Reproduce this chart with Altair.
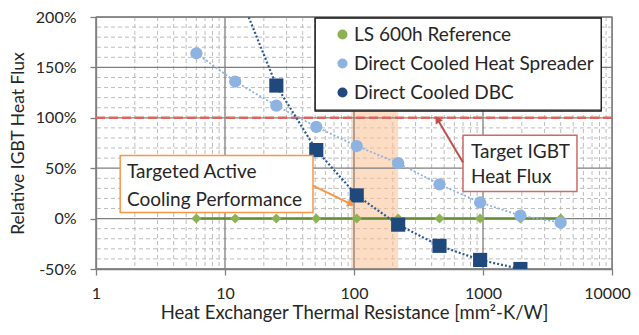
import math
import altair as alt
import numpy as np
import pandas as pd

# ---------------- data ----------------
series = ["LS 600h Reference", "Direct Cooled Heat Spreader", "Direct Cooled DBC"]
x_res = [6, 12, 25, 51, 105, 220, 460, 950, 1950, 4000]
ref_flux = [0, 0, 0, 0, 0, 0, 0, 0, 0, 0]
hs_flux = [164, 136, 112, 91, 72, 55, 34, 16, 3, -4]
dbc_x = [12, 25, 51, 105, 220, 460, 950, 1950]
dbc_flux = [233, 132, 68, 23, -6, -27, -41, -50]

target_flux = 100
band_range = [95, 220]

x_ticks = [1, 10, 100, 1000, 10000]
y_ticks = [-50, 0, 50, 100, 150, 200]

# annotation boxes / texts / arrows (data coordinates)
box_x1 = [1.54, 700]
box_x2 = [48.1, 5350]
box_y1 = [62.7, 82.6]
box_y2 = [6.0, 26.9]
box_color = ["#F79646", "#D06A66"]
note_x = [1.74, 1.74, 807, 807]
note_y = [45.8, 18.9, 65.7, 40.8]
note_text = ["Targeted Active", "Cooling Performance", "Target IGBT", "Heat Flux"]
arrow_x1 = [48.1, 700]
arrow_y1 = [32.8, 55.7]
arrow_x2 = [93.1, 448]
arrow_y2 = [14.9, 97.5]
arrow_color = ["#F79646", "#C0504D"]

W, H = 516, 252
FONT = "Lato"
TXT = "#262626"

# ---------------- frames ----------------
rows = []
for x, y in zip(x_res, ref_flux):
    rows.append({"x": x, "y": y, "s": series[0]})
for x, y in zip(x_res, hs_flux):
    rows.append({"x": x, "y": y, "s": series[1]})
for x, y in zip(dbc_x, dbc_flux):
    rows.append({"x": x, "y": y, "s": series[2]})
df = pd.DataFrame(rows)

xs = alt.Scale(type="log", domain=[1, 10000], nice=False)
ys = alt.Scale(domain=[-50, 200], nice=False, zero=False)

X = alt.X("x:Q", scale=xs, title="Heat Exchanger Thermal Resistance [mm²-K/W]",
          axis=alt.Axis(values=x_ticks, format="d", grid=False, tickSize=6,
                        labelPadding=10, labelFlush=False, titleFontSize=18.5,
                        titleBaseline="alphabetic", titleY=49,
                        labelOffset={"condition": {"test": "datum.value >= 10000", "value": -5},
                                     "value": 0}))
Y = alt.Y("y:Q", scale=ys, title="Relative IGBT Heat Flux",
          axis=alt.Axis(values=y_ticks, labelExpr="datum.value + '%'", grid=False,
                        tickSize=6, labelPadding=14, titlePadding=8, labelFlush=False,
                        titleFontSize=17.5))

# grids
minor_x = [m * 10 ** d for d in range(4) for m in range(2, 10)]
minor_y = [v for v in range(-40, 200, 10) if v % 50 != 0]
major_x = x_ticks
major_y = y_ticks

gx_minor = alt.Chart(pd.DataFrame({"x": minor_x})).mark_rule(
    color="#BDBDBD", strokeDash=[4, 3], strokeWidth=1).encode(x=alt.X("x:Q", scale=xs))
gy_minor = alt.Chart(pd.DataFrame({"y": minor_y})).mark_rule(
    color="#BDBDBD", strokeDash=[4, 3], strokeWidth=1).encode(y=alt.Y("y:Q", scale=ys))

band = alt.Chart(pd.DataFrame({"a": [band_range[0]], "b": [band_range[1]]})).mark_rect(
    color="#FAC090", opacity=0.55).encode(
    x=alt.X("a:Q", scale=xs), x2="b:Q", y=alt.value(0), y2=alt.value(H))

gx_major = alt.Chart(pd.DataFrame({"x": major_x})).mark_rule(
    color="#7F7F7F", strokeWidth=1.3).encode(x=alt.X("x:Q", scale=xs))
gy_major = alt.Chart(pd.DataFrame({"y": major_y})).mark_rule(
    color="#7F7F7F", strokeWidth=1.3).encode(y=alt.Y("y:Q", scale=ys))

target = alt.Chart(pd.DataFrame({"y": [target_flux]})).mark_rule(
    color="#D9665F", strokeDash=[9, 4], strokeWidth=2.5).encode(y=alt.Y("y:Q", scale=ys))

base = alt.Chart(df)
line_ref = base.transform_filter(alt.datum.s == series[0]).mark_line(
    color="#5F8B2E", strokeWidth=2.5, clip=True).encode(x=X, y=Y, order="x:Q")
line_hs = base.transform_filter(alt.datum.s == series[1]).mark_line(
    color="#8DB3E2", strokeWidth=1.8, strokeDash=[2, 2], clip=True).encode(x=X, y=Y, order="x:Q")
line_dbc = base.transform_filter(alt.datum.s == series[2]).mark_line(
    color="#2A5A96", strokeWidth=2.2, strokeDash=[2, 2], clip=True).encode(x=X, y=Y, order="x:Q")

LEG_EXPR = "datum.label + '\u00a0\u00a0'"
points = base.mark_point(filled=True, opacity=1, clip=True).encode(
    x=X, y=Y,
    shape=alt.Shape("s:N", scale=alt.Scale(domain=series, range=["diamond", "circle", "square"]),
                    legend=alt.Legend(title=None, labelExpr=LEG_EXPR)),
    color=alt.Color("s:N", scale=alt.Scale(domain=series, range=["#8DB255", "#8DB3E2", "#1F497D"]),
                    legend=alt.Legend(title=None, labelExpr=LEG_EXPR)),
    size=alt.Size("s:N", scale=alt.Scale(domain=series, range=[100, 200, 150]),
                  legend=alt.Legend(title=None, labelExpr=LEG_EXPR)),
)

# annotations
boxes = alt.Chart(pd.DataFrame({"x1": box_x1, "x2": box_x2, "y1": box_y1, "y2": box_y2,
                                "c": box_color})).mark_rect(
    fill="white", strokeWidth=1.5).encode(
    x=alt.X("x1:Q", scale=xs), x2="x2:Q", y=alt.Y("y1:Q", scale=ys), y2="y2:Q",
    stroke=alt.Stroke("c:N", scale=None))
notes = alt.Chart(pd.DataFrame({"x": note_x, "y": note_y, "t": note_text})).mark_text(
    align="left", baseline="middle", font=FONT, fontSize=19, color=TXT).encode(
    x=alt.X("x:Q", scale=xs), y=alt.Y("y:Q", scale=ys), text="t:N")


def px(v):
    return W * math.log10(v) / 4.0


def py(v):
    return H * (200 - v) / 250.0


angles = []
for a, b, c, d in zip(arrow_x1, arrow_y1, arrow_x2, arrow_y2):
    dx = px(c) - px(a)
    dy = py(d) - py(b)
    angles.append(math.degrees(math.atan2(dx, -dy)) % 360)

arr_df = pd.DataFrame({"x1": arrow_x1, "y1": arrow_y1, "x2": arrow_x2, "y2": arrow_y2,
                       "c": arrow_color, "ang": angles})
arrow_lines = alt.Chart(arr_df).mark_rule(strokeWidth=2).encode(
    x=alt.X("x1:Q", scale=xs), y=alt.Y("y1:Q", scale=ys), x2="x2:Q", y2="y2:Q",
    color=alt.Color("c:N", scale=None))
arrow_heads = alt.Chart(arr_df).mark_point(shape="triangle", filled=True, size=70, opacity=1).encode(
    x=alt.X("x2:Q", scale=xs), y=alt.Y("y2:Q", scale=ys),
    color=alt.Color("c:N", scale=None), angle=alt.Angle("ang:Q", scale=None))

chart = alt.layer(
    gx_minor, gy_minor, band, gx_major, gy_major, target,
    line_ref, line_hs, line_dbc, points,
    boxes, notes, arrow_lines, arrow_heads,
).resolve_scale(color="independent").properties(
    width=W, height=H,
    autosize=alt.AutoSizeParams(type="none"),
    padding={"left": 88, "top": 9, "right": 19, "bottom": 53},
).configure_view(stroke="#7F7F7F", strokeWidth=1.3).configure_axis(
    labelFont=FONT, titleFont=FONT, labelFontSize=16, titleFontSize=17.5,
    labelColor=TXT, titleColor=TXT, titleFontWeight="normal",
    domainColor="#7F7F7F", tickColor="#7F7F7F", domainWidth=1.3, tickWidth=1.3,
).configure_legend(
    orient="none", legendX=219, legendY=1, fillColor="white", strokeColor="#1a1a1a",
    strokeWidth=1.3, padding=7, labelFont=FONT, labelFontSize=19, labelColor=TXT,
    rowPadding=9, symbolOffset=11, labelOffset=2, labelLimit=400,
)

chart.save("out.html", embed_options={"renderer": "svg", "actions": False})
